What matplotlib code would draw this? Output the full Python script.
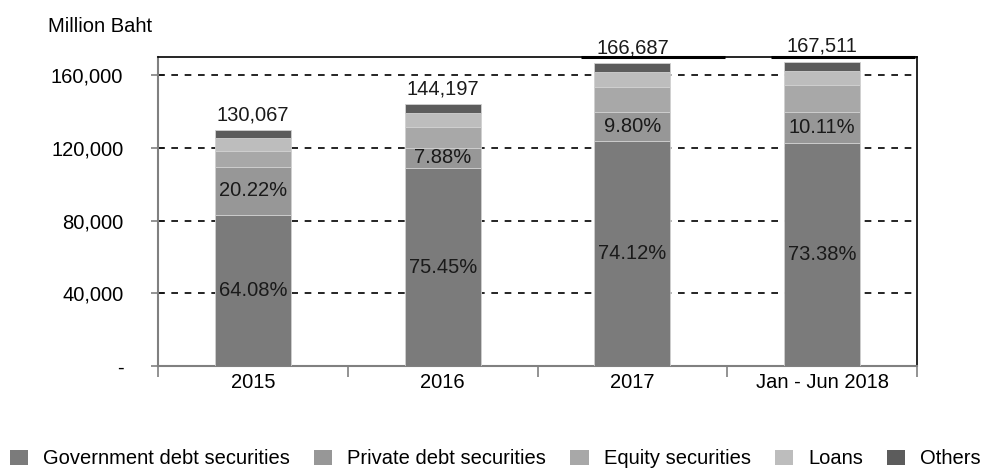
import matplotlib
matplotlib.use("Agg")
import matplotlib.pyplot as plt
import numpy as np
from matplotlib.patches import Patch
import matplotlib.transforms as mtransforms

plt.rcParams['font.family'] = ['Liberation Sans', 'DejaVu Sans']

categories = ["2015", "2016", "2017", "Jan - Jun 2018"]
government = [83347, 108797, 123548, 122920]
private = [26300, 11363, 16335, 16935]
equity = [8413, 11310, 13647, 14625]
loans = [7180, 7930, 7950, 7900]
others = [4827, 4797, 5207, 5131]
series_names = ["Government debt securities", "Private debt securities",
                "Equity securities", "Loans", "Others"]
colors = ["#7b7b7b", "#979797", "#a8a8a8", "#bdbdbd", "#5c5c5c"]
yticks = [0, 40000, 80000, 120000, 160000]
ytick_labels = ["-", "40,000", "80,000", "120,000", "160,000"]

FS = 14.5

fig = plt.figure(figsize=(9.83, 4.70), dpi=100)
ax = fig.add_axes([158/983, 1-366/470, (917-158)/983, (366-57)/470])

x = np.arange(len(categories))
series = [government, private, equity, loans, others]
bottom = np.zeros(len(categories))
for vals, col, name in zip(series, colors, series_names):
    ax.bar(x, vals, 0.4, bottom=bottom, color=col, edgecolor="#d0d0d0",
           linewidth=0.6, label=name, zorder=3)
    bottom += np.array(vals)
totals = bottom

for i in range(len(categories)):
    g = government[i]
    p = private[i]
    ax.text(x[i], g/2, f"{g/totals[i]*100:.2f}%", ha="center", va="center",
            fontsize=FS, color="#1a1a1a", zorder=4)
    ax.text(x[i], g + p/2, f"{p/totals[i]*100:.2f}%", ha="center", va="center",
            fontsize=FS, color="#1a1a1a", zorder=4)
    ax.annotate(f"{int(totals[i]):,}", (x[i], totals[i]), xytext=(0, 4),
                textcoords="offset points", ha="center", va="bottom",
                fontsize=FS, color="#1a1a1a", annotation_clip=False)

# thick top border segments under the two top labels
trans = mtransforms.blended_transform_factory(ax.transData, ax.transAxes)
for i in [2, 3]:
    ax.plot([x[i]-0.27, x[i]+0.49], [1, 1], color="black", lw=2.2,
            transform=trans, clip_on=False, zorder=6, solid_capstyle="butt")

ax.set_xlim(-0.5, len(categories)-0.5)
ax.set_ylim(0, 170000)
ax.set_yticks(yticks)
ax.set_yticklabels(ytick_labels, fontsize=FS)
ax.set_xticks(np.arange(len(categories)+1) - 0.5)
ax.set_xticklabels([])
ax.set_xticks(x, minor=True)
ax.set_xticklabels(categories, minor=True, fontsize=FS)
ax.tick_params(axis="x", which="minor", length=0, pad=5)
ax.tick_params(axis="x", which="major", length=8, width=1.2, color="#808080", direction="out")
ax.tick_params(axis="y", length=10, width=1.2, color="#808080", direction="inout", pad=20)

for yv in yticks[1:]:
    ax.axhline(yv, color="black", lw=1.2, linestyle=(0, (4, 4)), zorder=2)

for s in ["left", "bottom"]:
    ax.spines[s].set_color("#808080")
    ax.spines[s].set_linewidth(1.5)
for s in ["top", "right"]:
    ax.spines[s].set_color("black")
    ax.spines[s].set_linewidth(1.2)

fig.text(48/983, 1-26/470, "Million Baht", fontsize=FS, va="center", ha="left")

handles = [Patch(facecolor=c, edgecolor="none") for c in colors]
fig.legend(handles, series_names, loc="center", bbox_to_anchor=(0.504, 11/470),
           ncol=5, frameon=False, fontsize=FS, handlelength=0.9, handleheight=0.8,
           handletextpad=0.75, columnspacing=1.2, borderaxespad=0, borderpad=0)

fig.savefig("out.png", dpi=100)
